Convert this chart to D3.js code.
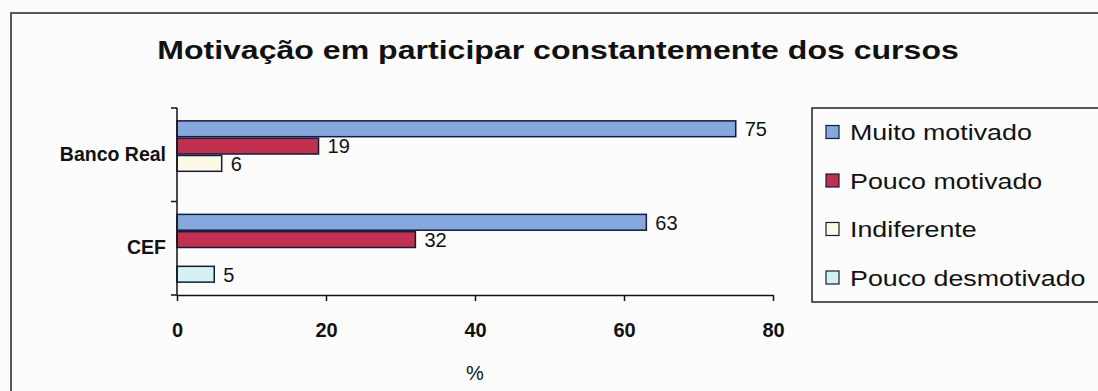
<!DOCTYPE html>
<html>
<head>
<meta charset="utf-8">
<script src="https://cdn.jsdelivr.net/npm/d3@7"></script>
<style>
  html, body { margin: 0; padding: 0; background: #fcfcfc; }
  #chart { width: 1098px; height: 391px; }
</style>
</head>
<body>
<div id="chart"></div>
<script>
// Bar chart: motivation to keep attending courses, per bank

const categories = ["Banco Real", "CEF"];
const seriesNames = ["Muito motivado", "Pouco motivado", "Indiferente", "Pouco desmotivado"];
const muitoMotivado = [75, 63];
const poucoMotivado = [19, 32];
const indiferente = [6, 0];
const poucoDesmotivado = [0, 5];
const xTicks = [0, 20, 40, 60, 80];

const seriesColours = ["#86a8dc", "#c0304f", "#fbf8e6", "#d4f2f2"];
const fontFamily = "'Liberation Sans', Arial, sans-serif";
const textColour = "#111";

const width = 1098;
const height = 391;

const svg = d3
  .select("#chart")
  .append("svg")
  .attr("width", width)
  .attr("height", height)
  .style("display", "block");

// outer frame of the chart
svg
  .append("rect")
  .attr("x", 11)
  .attr("y", 13)
  .attr("width", 1120)
  .attr("height", 420)
  .attr("fill", "#fcfcfc")
  .attr("stroke", "#222")
  .attr("stroke-width", 1.5);

// text that looks stretched sideways in the original
const stretchText = function (x, y, txt, size, weight, anchor, sx) {
  return svg
    .append("text")
    .attr("transform", `translate(${x},${y}) scale(${sx},1)`)
    .attr("text-anchor", anchor)
    .style("font-family", fontFamily)
    .style("font-size", size + "px")
    .style("font-weight", weight)
    .style("fill", textColour)
    .text(txt);
};

stretchText(558, 59, "Motivação em participar constantemente dos cursos", 26.5, "bold", "middle", 1.21);

const margin = { top: 108, right: 325, bottom: 96, left: 177 };

const x = d3
  .scaleLinear()
  .domain([0, 80])
  .range([margin.left, width - margin.right]);

const y = d3
  .scaleBand()
  .domain(categories)
  .range([margin.top, height - margin.bottom])
  .paddingInner(0)
  .paddingOuter(0);

const ySub = d3
  .scaleBand()
  .domain(seriesNames)
  .range([0, y.bandwidth()])
  .paddingInner(0)
  .paddingOuter(0.7);

// long format for the bars
const allSeries = [muitoMotivado, poucoMotivado, indiferente, poucoDesmotivado];
let barData = [];
categories.forEach(function (cat, i) {
  seriesNames.forEach(function (s, j) {
    barData.push({ category: cat, series: s, value: allSeries[j][i], idx: j });
  });
});
barData = barData.filter((d) => d.value > 0);

const barGroups = svg
  .selectAll(".bar")
  .data(barData)
  .enter()
  .append("g")
  .attr("class", "bar");

barGroups
  .append("rect")
  .attr("x", x(0))
  .attr("y", (d) => y(d.category) + ySub(d.series) + 0.75)
  .attr("width", (d) => x(d.value) - x(0))
  .attr("height", ySub.bandwidth() - 1.5)
  .attr("fill", (d) => seriesColours[d.idx])
  .attr("stroke", "#141a3c")
  .attr("stroke-width", 1.5);

barGroups
  .append("text")
  .attr("x", (d) => x(d.value) + 9)
  .attr("y", (d) => y(d.category) + ySub(d.series) + ySub.bandwidth() / 2 + 2)
  .attr("dominant-baseline", "middle")
  .style("font-family", fontFamily)
  .style("font-size", "20px")
  .style("fill", textColour)
  .text((d) => d.value);

// x axis
const xAxis = svg
  .append("g")
  .attr("transform", `translate(0,${height - margin.bottom})`)
  .call(d3.axisBottom(x).tickValues(xTicks).tickSizeInner(6).tickSizeOuter(0).tickPadding(22));

xAxis.select(".domain").attr("stroke", "#111").attr("stroke-width", 1.5);
xAxis.selectAll(".tick line").attr("stroke", "#111").attr("stroke-width", 1.5);
xAxis
  .selectAll(".tick text")
  .style("font-family", fontFamily)
  .style("font-size", "20px")
  .style("font-weight", "bold")
  .style("fill", textColour);

// y axis: line, ticks on the band edges, labels at band centres
const yEdges = categories.map((c) => y(c)).concat([y.range()[1]]);

svg
  .append("line")
  .attr("x1", x(0))
  .attr("x2", x(0))
  .attr("y1", y.range()[0])
  .attr("y2", y.range()[1])
  .attr("stroke", "#111")
  .attr("stroke-width", 1.5);

svg
  .selectAll(".y-tick")
  .data(yEdges)
  .enter()
  .append("line")
  .attr("class", "y-tick")
  .attr("x1", x(0) - 6)
  .attr("x2", x(0))
  .attr("y1", (d) => d)
  .attr("y2", (d) => d)
  .attr("stroke", "#111")
  .attr("stroke-width", 1.5);

svg
  .selectAll(".y-label")
  .data(categories)
  .enter()
  .append("text")
  .attr("class", "y-label")
  .attr("x", x(0) - 11)
  .attr("y", (d) => y(d) + y.bandwidth() / 2 + 1)
  .attr("text-anchor", "end")
  .attr("dominant-baseline", "middle")
  .style("font-family", fontFamily)
  .style("font-size", "19.5px")
  .style("font-weight", "bold")
  .style("fill", textColour)
  .text((d) => d);

// axis title
svg
  .append("text")
  .attr("x", x(40))
  .attr("y", 380)
  .attr("text-anchor", "middle")
  .style("font-family", fontFamily)
  .style("font-size", "20px")
  .style("fill", textColour)
  .text("%");

// legend
const legendTop = 108;
svg
  .append("rect")
  .attr("x", 812)
  .attr("y", legendTop)
  .attr("width", 320)
  .attr("height", 194)
  .attr("fill", "none")
  .attr("stroke", "#222")
  .attr("stroke-width", 1.5);

const legendRows = svg
  .selectAll(".legend-row")
  .data(seriesNames)
  .enter()
  .append("g")
  .attr("class", "legend-row")
  .attr("transform", (d, i) => `translate(826,${legendTop + 24 + i * 48.5})`);

legendRows
  .append("rect")
  .attr("x", 0)
  .attr("y", -6.5)
  .attr("width", 13)
  .attr("height", 13)
  .attr("fill", (d, i) => seriesColours[i])
  .attr("stroke", "#141a3c")
  .attr("stroke-width", 1.2);

legendRows
  .append("text")
  .attr("transform", "translate(24,8) scale(1.22,1)")
  .style("font-family", fontFamily)
  .style("font-size", "22px")
  .style("fill", textColour)
  .text((d) => d);
</script>
</body>
</html>
